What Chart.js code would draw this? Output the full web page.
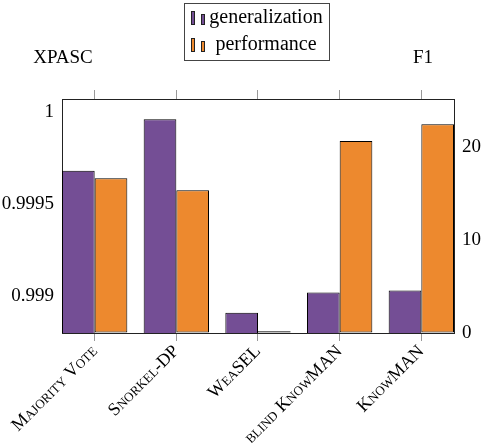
<!DOCTYPE html>
<html>
<head>
<meta charset="utf-8">
<script src="https://cdn.jsdelivr.net/npm/chart.js@4.4.1/dist/chart.umd.min.js"></script>
<style>
  body { margin: 0; background: #fff; }
  #wrap { width: 482px; height: 443px; }
</style>
</head>
<body>
<div id="wrap"><canvas id="canvas" width="482" height="443"></canvas></div>
<script>
// data
var methods = ['Majority Vote', 'Snorkel-DP', 'WeaSEL', 'blind KnowMAN', 'KnowMAN']
var generalization = [0.99968, 0.99996, 0.99891, 0.99902, 0.99903]
var performance = [16.6, 15.3, 0.2, 20.6, 22.4]
var xpascTicks = [0.999, 0.9995, 1]
var f1Ticks = [0, 10, 20]

var purple = 'rgb(116, 78, 149)'
var orange = 'rgb(237, 137, 46)'
var serif = "'Liberation Serif', 'Times New Roman', 'DejaVu Serif', serif"

// titles above the two y axes + boxed legend
var extras = {
    id: 'extras',
    afterDraw: function(chart) {
        var ctx = chart.ctx
        var area = chart.chartArea
        ctx.save()
        ctx.fillStyle = '#000'
        ctx.font = '19px ' + serif
        ctx.textAlign = 'center'
        ctx.textBaseline = 'middle'
        ctx.fillText('XPASC', area.left + 1, 58)
        ctx.fillText('F1', area.right - 31, 58)

        // legend box
        ctx.strokeStyle = '#444'
        ctx.lineWidth = 1
        ctx.strokeRect(184.5, 3.5, 145, 57)
        var rows = chart.data.datasets
        for (var i = 0; i < rows.length; i++) {
            var cy = 18 + i * 27
            ctx.fillStyle = rows[i].backgroundColor
            ctx.strokeStyle = '#222'
            ctx.fillRect(191, cy - 7, 4, 14)
            ctx.strokeRect(191.5, cy - 6.5, 3, 13)
            ctx.fillRect(201, cy - 4, 4, 11)
            ctx.strokeRect(201.5, cy - 3.5, 3, 10)
            ctx.fillStyle = '#000'
            ctx.font = '20px ' + serif
            ctx.textAlign = 'center'
            ctx.fillText(rows[i].label, 266, cy)
        }
        ctx.restore()
    }
}

function indexTicks(scale) {
    scale.ticks = methods.map(function(m, i) { return {value: i} })
}

var ctx = document.getElementById('canvas').getContext('2d');
var config = {
    type: 'bar',
    data: {
        datasets: [{
            label: 'generalization',
            backgroundColor: purple,
            borderColor: '#000',
            borderWidth: 1,
            borderSkipped: false,
            data: generalization.map(function(v, i) { return {x: i, y: v} }),
            yAxisID: 'y',
            xAxisID: 'x'
        }, {
            label: 'performance',
            backgroundColor: orange,
            borderColor: '#000',
            borderWidth: 1,
            borderSkipped: false,
            data: performance.map(function(v, i) { return {x: i, y: v} }),
            yAxisID: 'y1',
            xAxisID: 'x'
        }]
    },
    options: {
        responsive: false,
        animation: false,
        categoryPercentage: 0.8,
        barPercentage: 1,
        layout: { padding: { top: 90 } },
        plugins: {
            legend: { display: false },
            tooltip: { enabled: false }
        },
        scales: {
            x: {
                type: 'linear',
                position: 'bottom',
                min: -0.4,
                max: 4.4,
                offset: false,
                afterBuildTicks: indexTicks,
                afterFit: function(s) { s.height = 110 },
                border: { display: true, color: '#222', width: 1 },
                grid: { drawOnChartArea: false, offset: false, drawTicks: true, tickLength: 8, color: '#999' },
                ticks: {
                    minRotation: 45,
                    maxRotation: 45,
                    padding: 0,
                    color: '#000',
                    font: { family: serif, size: 18, weight: 'small-caps' },
                    callback: function(v) { return methods[v] }
                }
            },
            xTop: {
                type: 'linear',
                position: 'top',
                min: -0.4,
                max: 4.4,
                offset: false,
                afterBuildTicks: indexTicks,
                afterFit: function(s) { s.height = 9 },
                border: { display: true, color: '#222', width: 1 },
                grid: { drawOnChartArea: false, offset: false, drawTicks: true, tickLength: 9, color: '#999' },
                ticks: { display: false }
            },
            y: {
                type: 'linear',
                position: 'left',
                min: 0.9988,
                max: 1.00007,
                beginAtZero: false,
                afterBuildTicks: function(s) { s.ticks = xpascTicks.map(function(v) { return {value: v} }) },
                afterFit: function(s) { s.width = 62 },
                border: { display: true, color: '#222', width: 1 },
                grid: { drawOnChartArea: false, drawTicks: false },
                ticks: {
                    padding: 8,
                    color: '#000',
                    font: { family: serif, size: 19 },
                    callback: function(v) { return String(v) }
                }
            },
            y1: {
                type: 'linear',
                position: 'right',
                min: 0,
                max: 25.1,
                beginAtZero: true,
                afterBuildTicks: function(s) { s.ticks = f1Ticks.map(function(v) { return {value: v} }) },
                afterFit: function(s) { s.width = 28 },
                border: { display: true, color: '#222', width: 1 },
                grid: { drawOnChartArea: false, drawTicks: false },
                ticks: {
                    padding: 8,
                    color: '#000',
                    font: { family: serif, size: 19 },
                    callback: function(v) { return String(v) }
                }
            }
        }
    },
    plugins: [extras]
};

var mychart = new Chart(ctx, config);
</script>
</body>
</html>
